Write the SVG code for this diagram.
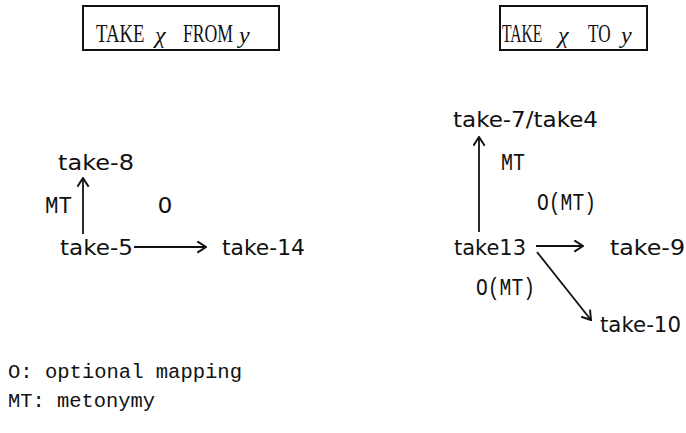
<svg xmlns="http://www.w3.org/2000/svg" width="686" height="433" viewBox="0 0 686 433">
  <style>
    .frame { fill: none; stroke: #111; stroke-width: 2; }
    .title { font-family: "Liberation Serif", serif; font-size: 26px; fill: #111; }
    .v { font-family: "Liberation Serif", serif; font-size: 24px; font-style: italic; fill: #111; }
    .node { font-family: "DejaVu Sans", sans-serif; font-size: 21px; fill: #111; }
    .lbl { font-family: "Liberation Mono", monospace; font-size: 23px; fill: #111; }
    .key { font-family: "Liberation Mono", monospace; font-size: 20px; fill: #111; }
    .edge { fill: none; stroke: #111; stroke-width: 1.8; }
  </style>
  <defs>
    <marker id="head" viewBox="0 0 12 12" refX="11" refY="6" markerWidth="13" markerHeight="13" markerUnits="userSpaceOnUse" orient="auto">
      <polyline points="3,0.8 11,6 3,11.2" fill="none" stroke="#111" stroke-width="1.8"/>
    </marker>
  </defs>
  <rect width="686" height="433" fill="#fff"/>

  <!-- frame titles: condensed caps, italic variables -->
  <g id="title-from">
    <rect class="frame" x="83" y="6" width="196" height="44"/>
    <text class="title" transform="translate(96,42) scale(0.72,1)">TAKE</text>
    <text class="v" x="155" y="43">χ</text>
    <text class="title" transform="translate(183,42) scale(0.68,1)">FROM</text>
    <text class="v" x="239" y="43">y</text>
  </g>
  <g id="title-to">
    <rect class="frame" x="500" y="6" width="147" height="44"/>
    <text class="title" transform="translate(502,42) scale(0.6,1)">TAKE</text>
    <text class="v" x="558" y="43">χ</text>
    <text class="title" transform="translate(588,42) scale(0.66,1)">TO</text>
    <text class="v" x="621" y="43">y</text>
  </g>

  <!-- senses -->
  <g id="take-8"><text class="node" x="58" y="170" textLength="76" lengthAdjust="spacingAndGlyphs">take-8</text></g>
  <g id="take-5"><text class="node" x="60" y="255" textLength="73" lengthAdjust="spacingAndGlyphs">take-5</text></g>
  <g id="take-14"><text class="node" x="222" y="255" textLength="83" lengthAdjust="spacingAndGlyphs">take-14</text></g>
  <g id="take-7-take4"><text class="node" x="453" y="127" textLength="145" lengthAdjust="spacingAndGlyphs">take-7/take4</text></g>
  <g id="take13"><text class="node" x="454" y="255" textLength="72" lengthAdjust="spacingAndGlyphs">take13</text></g>
  <g id="take-9"><text class="node" x="610" y="255" textLength="75" lengthAdjust="spacingAndGlyphs">take-9</text></g>
  <g id="take-10"><text class="node" x="600" y="332" textLength="81" lengthAdjust="spacingAndGlyphs">take-10</text></g>

  <!-- mappings -->
  <g id="connectors">
    <line class="edge" x1="83" y1="234" x2="83" y2="178" marker-end="url(#head)"/>
    <line class="edge" x1="134" y1="247" x2="206" y2="247" marker-end="url(#head)"/>
    <line class="edge" x1="479" y1="232" x2="479" y2="137" marker-end="url(#head)"/>
    <line class="edge" x1="536" y1="246" x2="583" y2="246" marker-end="url(#head)"/>
    <line class="edge" x1="537" y1="252" x2="591" y2="320" marker-end="url(#head)"/>
    <text class="lbl" x="45" y="213" textLength="27" lengthAdjust="spacingAndGlyphs">MT</text>
    <text class="lbl" x="158" y="213" textLength="14" lengthAdjust="spacingAndGlyphs">O</text>
    <text class="lbl" x="501" y="170" textLength="24" lengthAdjust="spacingAndGlyphs">MT</text>
    <text class="lbl" x="537" y="210" textLength="59" lengthAdjust="spacingAndGlyphs">O(MT)</text>
    <text class="lbl" x="476" y="295" textLength="59" lengthAdjust="spacingAndGlyphs">O(MT)</text>
  </g>

  <!-- key -->
  <g id="legend">
    <text class="key" x="8" y="378" textLength="234" lengthAdjust="spacingAndGlyphs">O: optional mapping</text>
    <text class="key" x="8" y="407" textLength="147" lengthAdjust="spacingAndGlyphs">MT: metonymy</text>
  </g>
</svg>
